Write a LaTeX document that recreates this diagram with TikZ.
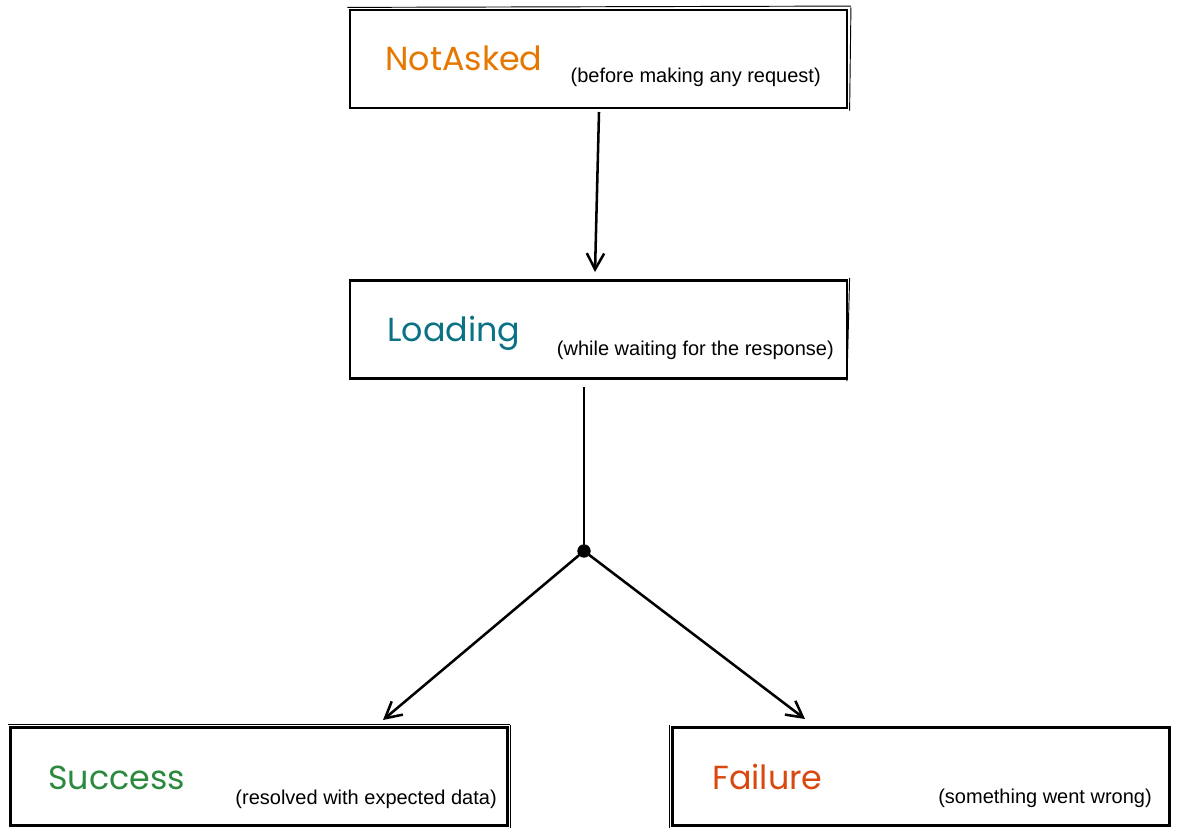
\documentclass[tikz,border=0pt]{standalone}
\usepackage{fontspec}
\setmainfont{Liberation Sans}
\newfontfamily\handfont{Poppins}
\usetikzlibrary{arrows.meta}
\definecolor{cNA}{HTML}{E67700}
\definecolor{cLO}{HTML}{0B7285}
\definecolor{cSU}{HTML}{2B8A3E}
\definecolor{cFA}{HTML}{D9480F}
\tikzset{
  statebox/.style={draw=black, line width=1.9pt, minimum width=372.75pt, minimum height=73.5pt, inner sep=0pt, fill=white},
  title/.style={anchor=base west, inner sep=0pt, font=\handfont\fontsize{25}{29}\selectfont},
  sub/.style={anchor=base east, inner sep=0pt, font=\fontsize{15}{18}\selectfont},
  conn/.style={line width=1.9pt, -{Straight Barb[length=12pt,width=13pt,line width=1.9pt]}},
  sketch/.style={line width=0.7pt},
}
\begin{document}
\begin{tikzpicture}[x=0.75pt,y=-0.75pt]
\useasboundingbox (0,0) rectangle (1180,835);
% boxes
\node[statebox] (na) at (598.5,59) {};
\node[statebox] (lo) at (598.5,329.5) {};
\node[statebox] (su) at (259,776.5) {};
\node[statebox] (fa) at (921,776.5) {};
% sketchy second strokes
\draw[sketch] ([xshift=-1pt,yshift=1pt]na.north west) -- ([xshift=2pt,yshift=2pt]na.north east);
\draw[sketch] ([xshift=2pt,yshift=1pt]na.north east) -- ([xshift=1pt,yshift=-1pt]na.south east);
\draw[sketch] ([xshift=1pt,yshift=1pt]lo.north east) -- ([xshift=-1pt,yshift=-1pt]lo.south east);
\draw[sketch] ([xshift=-1pt,yshift=1pt]su.north west) -- ([xshift=1pt,yshift=1pt]su.north east);
\draw[sketch] ([xshift=1pt,yshift=1pt]su.north east) -- ([xshift=1pt,yshift=-1pt]su.south east);
\draw[sketch] ([xshift=-1pt,yshift=1pt]fa.north west) -- ([xshift=-1pt,yshift=-1pt]fa.south west);
% titles
\node[title, text=cNA] (tna) at (385,70) {NotAsked};
\node[title, text=cLO] (tlo) at (387,341) {Loading};
\node[title, text=cSU] (tsu) at (48,789) {Success};
\node[title, text=cFA] (tfa) at (712,789) {Failure};
% subtitles
\node[sub] (sna) at (821,82) {(before making any request)};
\node[sub] (slo) at (834,355) {(while waiting for the response)};
\node[sub] (ssu) at (497,804) {(resolved with expected data)};
\node[sub] (sfa) at (1152,803) {(something went wrong)};
% connectors
\coordinate (a1) at (599,112);
\coordinate (a2) at (595,272);
\draw[conn] (a1) -- (a2);
\coordinate (b1) at (584,387);
\node[circle, fill=black, inner sep=0pt, minimum size=10pt] (jn) at (584,551) {};
\draw[line width=1.9pt] (b1) -- (jn.center);
\coordinate (s1) at (383,720);
\coordinate (f1) at (805,719);
\draw[conn] (jn.center) -- (s1);
\draw[conn] (jn.center) -- (f1);
\end{tikzpicture}
\end{document}
